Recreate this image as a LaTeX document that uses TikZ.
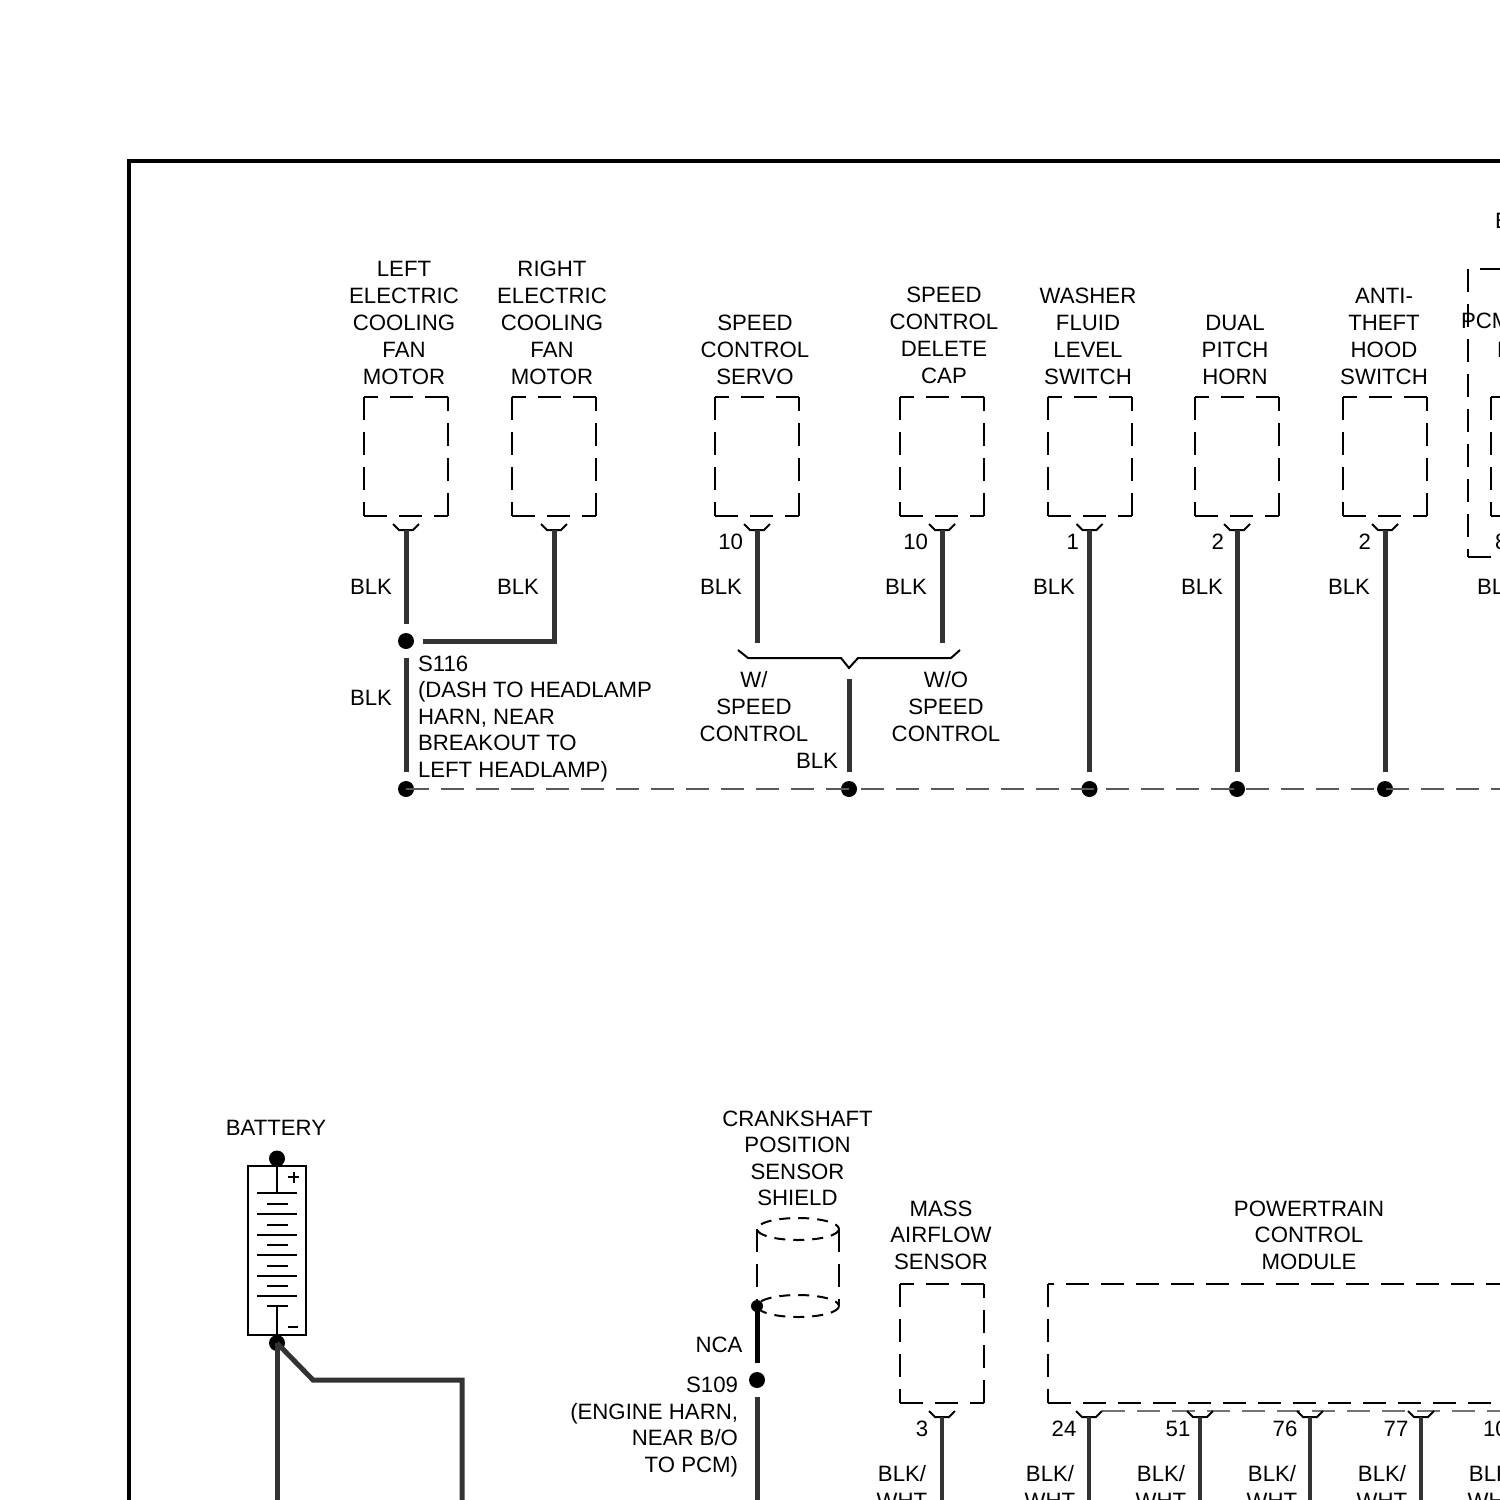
\documentclass[tikz,border=0pt]{standalone}
\usepackage{fontspec}
\setmainfont{Liberation Sans}
\definecolor{wirec}{HTML}{333333}
\newcommand{\lst}{\rule[-5.5pt]{0pt}{27pt}}
\newcommand{\lbl}[5][center]{\node[lab,align=#1] (#2) at (#3,#4) {\lst #5\lst};}
\newcommand{\lbw}[4]{\node[lab,align=left,anchor=west] (#1) at (#2,#3) {\lst #4\lst};}
\newcommand{\lbe}[4]{\node[lab,align=right,anchor=east] (#1) at (#2,#3) {\lst #4\lst};}
\newcommand{\dbox}[5]{%
  \path (#2,#3) coordinate (#1-tl) (#2,#5) coordinate (#1-bl) (#4,#5) coordinate (#1-br) (#4,#3) coordinate (#1-tr);
  \draw[dashln] (#1-tl) -- (#1-bl);
  \draw[dashln] (#1-bl) -- (#1-br);
  \draw[dashln] (#1-br) -- (#1-tr);
  \draw[dashln] (#1-tr) -- (#1-tl);}
\newcommand{\pin}[3]{%
  \coordinate (#1) at (#2,#3);
  \draw[thinln] ($(#1)+(-13,-6)$) -- ($(#1)+(-7,0)$) -- ($(#1)+(7,0)$) -- ($(#1)+(13,-6)$);}
\usetikzlibrary{calc}
\tikzset{
  x=1pt,y=-1pt,
  lab/.style={inner sep=0pt,outer sep=0pt,font=\fontsize{22.2pt}{27pt}\selectfont,text=black},
  tightlab/.style={lab/.append style={font=\fontsize{22.2pt}{26.5pt}\selectfont}},
  wire/.style={line width=5pt,draw=wirec},
  wirethin/.style={line width=4pt,draw=wirec},
  dashln/.style={line width=2pt,draw=black,dash pattern=on 23pt off 12pt},
  thinln/.style={line width=2pt,draw=black},
  bus/.style={line width=1.2pt,draw=black!65,dash pattern=on 23pt off 12pt},
  dotn/.style={circle,fill=black,draw=none,minimum size=16pt,inner sep=0pt,outer sep=9pt},
}
\begin{document}
\begin{tikzpicture}
\clip (0,0) rectangle (1500,1500);
\fill[white] (0,0) rectangle (1500,1500);
% frame
\draw[line width=4pt,draw=black] (129,161) rectangle (1700,1700);

% upper boxes
\dbox{b1}{364}{397}{448}{516}
\dbox{b2}{512}{397}{596}{516}
\dbox{b3}{715}{397}{799}{516}
\dbox{b4}{900}{397}{984}{516}
\dbox{b5}{1048}{397}{1132}{516}
\dbox{b6}{1195}{397}{1279}{516}
\dbox{b7}{1343}{397}{1427}{516}
\dbox{b8}{1491}{397}{1575}{516}
\dbox{b9}{1468}{269}{1643}{557}

% upper labels
\lbl{t1}{404}{322}{LEFT\\ELECTRIC\\COOLING\\FAN\\MOTOR}
\lbl{t2}{552}{322}{RIGHT\\ELECTRIC\\COOLING\\FAN\\MOTOR}
\lbl{t3}{755}{349}{SPEED\\CONTROL\\SERVO}
\lbl{t4}{944}{334.5}{SPEED\\CONTROL\\DELETE\\CAP}
\lbl{t5}{1088}{336}{WASHER\\FLUID\\LEVEL\\SWITCH}
\lbl{t6}{1235}{349}{DUAL\\PITCH\\HORN}
\lbl{t7}{1384}{336}{ANTI-\\THEFT\\HOOD\\SWITCH}
\lbw{t8}{1495}{220}{E}
\lbw{t9}{1461}{320}{PCM}
\lbw{t10}{1497}{349}{F}

% pins upper
\pin{p1}{406}{530}
\pin{p2}{554}{530}
\pin{p3}{757}{530}
\pin{p4}{942}{530}
\pin{p5}{1089.5}{530}
\pin{p6}{1237}{530}
\pin{p7}{1385}{530}
\lbe{n3}{743}{541}{10}
\lbe{n4}{928}{541}{10}
\lbe{n5}{1079}{541}{1}
\lbe{n6}{1224}{541}{2}
\lbe{n7}{1371}{541}{2}
\lbw{n8}{1495}{541}{8}

% splices and ground bus
\node[dotn] (s116) at (406,641) {};
\node[dotn] (g1) at (406,789) {};
\node[dotn] (g2) at (849,789) {};
\node[dotn] (g3) at (1089.5,789) {};
\node[dotn] (g4) at (1237,789) {};
\node[dotn] (g5) at (1385,789) {};
\coordinate (busend) at (1510,789);
\draw[bus] (g1.center) -- (busend);

% wires upper
\draw[wire] (p1) -- (s116);
\draw[wire] (s116) -- (p2 |- s116) -- (p2);
\draw[wire] (s116) -- (g1);
\coordinate (wa) at (757,643);
\coordinate (wb) at (942,643);
\coordinate (wc) at (849,679);
\draw[wire] (p3) -- (wa);
\draw[wire] (p4) -- (wb);
\draw[wire] (wc) -- (g2);
\draw[wire] (p5) -- (g3);
\draw[wire] (p6) -- (g4);
\draw[wire] (p7) -- (g5);
% brace
\coordinate (br1) at (738,650);
\coordinate (br2) at (748,658);
\coordinate (br3) at (841,658);
\coordinate (br4) at (849,668);
\coordinate (br5) at (858,658);
\coordinate (br6) at (951,658);
\coordinate (br7) at (960,650);
\draw[thinln] (br1) -- (br2) -- (br3) -- (br4) -- (br5) -- (br6) -- (br7);

% wire colours upper
\lbl{c1}{371}{586}{BLK}
\lbl{c2}{518}{586}{BLK}
\lbl{c3}{721}{586}{BLK}
\lbl{c4}{906}{586}{BLK}
\lbl{c5}{1054}{586}{BLK}
\lbl{c6}{1202}{586}{BLK}
\lbl{c7}{1349}{586}{BLK}
\lbw{c8}{1477}{586}{BLK}
\lbl{c9}{371}{697}{BLK}
\lbl{c10}{817}{760}{BLK}
\begin{scope}[tightlab]
\lbw{s116t}{418}{716}{S116\\(DASH TO HEADLAMP\\HARN, NEAR\\BREAKOUT TO\\LEFT HEADLAMP)}
\end{scope}
\lbl{wsc}{754}{706}{W/\\SPEED\\CONTROL}
\lbl{wosc}{946}{706}{W/O\\SPEED\\CONTROL}

% battery
\lbl{batt}{276}{1127}{BATTERY}
\draw[line width=2pt,draw=black] (248,1166) rectangle (306,1335);
\node[dotn] (bp) at (277,1158.5) {};
\node[dotn] (bn) at (277,1343) {};
\coordinate (pl1) at (277,1193.3);
\coordinate (pl2) at (277,1306);
\draw[thinln] (bp.center) -- (pl1);
\draw[thinln] (pl2) -- (bn.center);
\foreach \yy in {1193.3,1214,1234.7,1255,1275.5,1295.7}{\draw[thinln] (257,\yy) -- (297,\yy);}
\foreach \yy in {1204,1224.6,1245,1265.5,1286,1306}{\draw[thinln] (267,\yy) -- (288,\yy);}
\draw[thinln] (288,1177) -- (299,1177) (293.5,1171.5) -- (293.5,1182.5);
\draw[thinln] (288,1327) -- (298,1327);
\coordinate (ba) at (277,1510);
\coordinate (bb) at (313,1380);
\coordinate (bc) at (462,1380);
\coordinate (bd) at (462,1510);
\draw[wire] (bn.center) -- (ba);
\draw[wire] (bn.center) -- (bb) -- (bc) -- (bd);

% cylinder shield
\begin{scope}[tightlab]
\lbl{crank}{797.5}{1158}{CRANKSHAFT\\POSITION\\SENSOR\\SHIELD}
\end{scope}
\draw[dashln,dash pattern=on 11pt off 8pt] (798,1229) ellipse [x radius=41,y radius=11];
\draw[dashln,dash pattern=on 11pt off 8pt] (798,1306) ellipse [x radius=41,y radius=11];
\coordinate (cy1) at (757,1229);
\coordinate (cy2) at (839,1229);
\coordinate (cy3) at (839,1306);
\draw[dashln] (cy1) -- (757,1306);
\draw[dashln] (cy2) -- (cy3);
\node[circle,fill=black,minimum size=12pt,inner sep=0pt] (sh) at (757,1306) {};
\node[dotn] (s109) at (757,1380) {};
\coordinate (ce) at (757,1510);
\draw[wire,draw=black] (sh.center) -- (s109);
\draw[wire] (s109) -- (ce);
\lbl{nca}{719}{1344}{NCA}
\begin{scope}[tightlab]
\lbe{s109t}{738}{1424.5}{S109\\(ENGINE HARN,\\NEAR B/O\\TO PCM)}
% lower boxes
\lbl{maf}{941}{1234.5}{MASS\\AIRFLOW\\SENSOR}
\lbl{pcm}{1309}{1234.5}{POWERTRAIN\\CONTROL\\MODULE}
\end{scope}
\dbox{mb}{900}{1284}{984}{1403}
\dbox{pb}{1048}{1284}{1649}{1403}
\coordinate (ga) at (1102,1411);
\coordinate (gb) at (1510,1411);
\draw[bus,draw=black!55] (ga) -- (gb);

\pin{q0}{942}{1417}
\pin{q1}{1089}{1417}
\pin{q2}{1200}{1417}
\pin{q3}{1310}{1417}
\pin{q4}{1421}{1417}
\foreach \n/\xx in {q0/942,q1/1089,q2/1200,q3/1310,q4/1421}{
  \coordinate (\n e) at (\xx,1510);
  \draw[wirethin] (\n) -- (\n e);
}
\lbl{m0}{922}{1428}{3}
\lbl{m1}{1064}{1428}{24}
\lbl{m2}{1178}{1428}{51}
\lbl{m3}{1285}{1428}{76}
\lbl{m4}{1396}{1428}{77}
\lbw{m5}{1483}{1428}{10}
\lbl{w0}{902}{1487}{BLK/\\WHT}
\lbl{w1}{1050}{1487}{BLK/\\WHT}
\lbl{w2}{1161}{1487}{BLK/\\WHT}
\lbl{w3}{1272}{1487}{BLK/\\WHT}
\lbl{w4}{1382}{1487}{BLK/\\WHT}
\lbl{w5}{1493}{1487}{BLK/\\WHT}
\end{tikzpicture}
\end{document}
